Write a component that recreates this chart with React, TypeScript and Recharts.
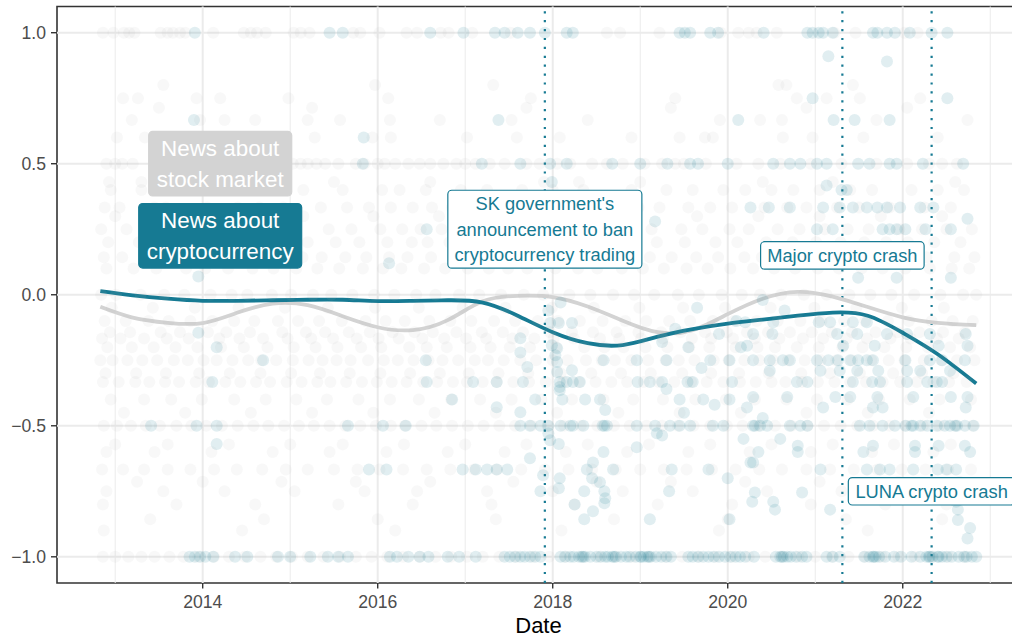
import React from 'react';
import {
  ComposedChart,
  Scatter,
  Line,
  XAxis,
  YAxis,
  ReferenceLine,
  ReferenceArea,
  ReferenceDot,
} from 'recharts';

// ---------- colours ----------
const TEAL = '#167a93';
const LIGHT = '#d3d3d3';
const FONT = '"Liberation Sans", Arial, Helvetica, sans-serif';

// ---------- axes ----------
const xDomain = [2012.335, 2023.34];
const yDomain = [-1.1, 1.1];
const xTicks = [2014, 2016, 2018, 2020, 2022];
const xMinor = [2013, 2015, 2017, 2019, 2021, 2023];
const yTicks = [-1, -0.5, 0, 0.5, 1];

// ---------- smoothed trends ----------
const trendDates = [2012.83, 2013.2, 2013.6, 2014.0, 2014.4, 2014.8, 2015.2, 2015.6, 2016.0, 2016.4, 2016.8, 2017.2, 2017.6, 2018.0, 2018.4, 2018.8, 2019.2, 2019.6, 2020.0, 2020.4, 2020.8, 2021.2, 2021.6, 2022.0, 2022.4, 2022.84];
const cryptoTrend = [0.014, -0.002, -0.015, -0.023, -0.023, -0.021, -0.019, -0.019, -0.024, -0.023, -0.021, -0.03, -0.08, -0.143, -0.185, -0.192, -0.16, -0.131, -0.11, -0.095, -0.08, -0.068, -0.08, -0.145, -0.227, -0.339];
const stockTrend = [-0.046, -0.087, -0.107, -0.108, -0.068, -0.034, -0.04, -0.082, -0.124, -0.135, -0.097, -0.025, -0.004, -0.009, -0.045, -0.099, -0.143, -0.135, -0.074, -0.015, 0.011, -0.007, -0.047, -0.086, -0.107, -0.116];

// ---------- events ----------
const eventDates = [2017.91, 2021.31, 2022.33];

// ---------- news about stock market (sentiment by date) ----------
const stockP100 = [2012.86, 2012.98, 2013.1, 2013.16, 2013.22, 2013.52, 2013.6, 2013.66, 2013.74, 2013.8, 2014.12, 2014.47, 2014.55, 2014.62, 2014.72, 2015.04, 2015.12, 2015.22, 2015.72, 2015.8, 2016.02, 2016.33, 2016.45, 2016.72, 2016.81, 2017.08, 2017.52, 2018.62, 2018.77, 2019.22, 2019.92, 2020.12, 2020.24, 2020.33, 2020.56, 2021.22, 2021.46, 2022.02, 2022.17];
const stockP080 = [2013.55, 2015.97, 2017.32, 2020.58, 2020.67, 2021.43];
const stockP075 = [2013.09, 2013.26, 2013.93, 2014.2, 2014.98, 2016.12, 2017.75, 2019.4, 2020.79, 2021.13, 2021.51, 2022.2];
const stockP071 = [2013.5, 2015.25, 2017.7, 2019.35, 2020.9, 2022.05];
const stockP067 = [2013.19, 2013.97, 2014.25, 2014.6, 2015.2, 2015.57, 2016.14, 2016.71, 2017.53, 2018.4, 2019.91, 2020.37, 2020.62, 2021.7, 2022.74];
const stockP060 = [2013.02, 2013.34, 2014.45, 2015.28, 2015.94, 2016.15, 2017.02, 2017.59, 2018.08, 2018.9, 2019.45, 2019.74, 2019.83, 2020.63, 2020.97, 2021.55, 2022.4];
const stockP050 = [2012.9, 2013.0, 2013.08, 2013.2, 2013.55, 2013.62, 2014.0, 2014.06, 2014.35, 2014.8, 2015.03, 2015.12, 2015.2, 2015.3, 2015.4, 2015.55, 2015.75, 2015.85, 2016.0, 2016.08, 2016.2, 2016.35, 2016.48, 2016.6, 2016.75, 2016.9, 2017.0, 2017.12, 2017.28, 2017.45, 2017.7, 2017.85, 2018.05, 2018.2, 2018.45, 2018.62, 2018.8, 2019.05, 2019.25, 2019.4, 2019.5, 2019.75, 2020.1, 2020.35, 2020.6, 2020.95, 2021.3, 2021.7, 2022.05, 2022.3, 2022.45, 2022.62];
const stockP043 = [2012.93, 2013.3, 2014.9, 2015.5, 2016.6, 2017.9, 2018.3, 2019.0, 2020.4, 2021.2, 2022.6];
const stockP040 = [2012.95, 2013.3, 2013.7, 2014.3, 2014.75, 2015.15, 2015.6, 2016.05, 2016.25, 2016.55, 2016.95, 2017.25, 2017.65, 2018.0, 2018.35, 2018.9, 2019.3, 2019.6, 2019.95, 2020.2, 2020.5, 2020.75, 2021.05, 2021.4, 2021.65, 2022.1, 2022.4, 2022.7];
const stockP033 = [2012.88, 2013.05, 2013.45, 2013.58, 2014.05, 2014.4, 2014.65, 2014.92, 2015.35, 2015.65, 2015.9, 2016.15, 2016.4, 2016.62, 2016.85, 2017.05, 2017.35, 2017.55, 2017.8, 2018.15, 2018.5, 2018.72, 2018.98, 2019.22, 2019.55, 2019.8, 2020.05, 2020.42, 2020.68, 2020.9, 2021.25, 2021.5, 2021.85, 2022.25, 2022.55];
const stockP030 = [2013.0, 2013.7, 2014.45, 2015.15, 2015.95, 2016.7, 2017.45, 2018.2, 2018.95, 2019.65, 2020.35, 2021.05, 2021.75, 2022.45];
const stockP025 = [2012.84, 2013.13, 2013.41, 2013.7, 2013.95, 2014.24, 2014.5, 2014.83, 2015.06, 2015.44, 2015.7, 2016.03, 2016.28, 2016.49, 2016.73, 2016.99, 2017.21, 2017.4, 2017.64, 2017.93, 2018.27, 2018.53, 2018.86, 2019.13, 2019.47, 2019.71, 2020.02, 2020.24, 2020.57, 2020.82, 2021.11, 2021.37, 2021.61, 2021.96, 2022.22, 2022.5, 2022.79];
const stockP020 = [2012.92, 2013.27, 2013.5, 2013.87, 2014.14, 2014.46, 2014.71, 2015.02, 2015.2, 2015.52, 2015.79, 2016.11, 2016.39, 2016.57, 2016.82, 2017.09, 2017.31, 2017.52, 2017.77, 2018.11, 2018.42, 2018.64, 2018.94, 2019.19, 2019.51, 2019.86, 2020.11, 2020.44, 2020.74, 2021.01, 2021.29, 2021.56, 2021.81, 2022.06, 2022.36, 2022.66];
const stockP014 = [2012.87, 2013.08, 2013.36, 2013.63, 2013.9, 2014.17, 2014.37, 2014.64, 2014.87, 2015.14, 2015.36, 2015.63, 2015.87, 2016.13, 2016.34, 2016.61, 2016.86, 2017.13, 2017.37, 2017.61, 2017.84, 2018.07, 2018.34, 2018.61, 2018.87, 2019.11, 2019.36, 2019.64, 2019.89, 2020.19, 2020.39, 2020.66, 2020.94, 2021.21, 2021.44, 2021.71, 2022.01, 2022.27, 2022.59, 2022.82];
const stockP010 = [2012.9, 2013.21, 2013.47, 2013.81, 2014.03, 2014.29, 2014.57, 2014.81, 2015.07, 2015.31, 2015.56, 2015.83, 2016.06, 2016.27, 2016.53, 2016.77, 2017.03, 2017.27, 2017.49, 2017.71, 2018.03, 2018.29, 2018.51, 2018.79, 2019.03, 2019.27, 2019.53, 2019.77, 2020.03, 2020.29, 2020.53, 2020.77, 2021.03, 2021.27, 2021.53, 2021.77, 2022.03, 2022.31, 2022.56, 2022.76];
const stockP000 = [2012.84, 2013.01, 2013.29, 2013.56, 2013.79, 2014.09, 2014.33, 2014.51, 2014.79, 2015.01, 2015.26, 2015.47, 2015.71, 2015.96, 2016.19, 2016.44, 2016.66, 2016.93, 2017.16, 2017.41, 2017.67, 2017.89, 2018.19, 2018.43, 2018.69, 2018.93, 2019.16, 2019.43, 2019.67, 2019.93, 2020.16, 2020.37, 2020.61, 2020.87, 2021.13, 2021.39, 2021.63, 2021.87, 2022.13, 2022.43, 2022.69, 2022.84];
const stockM005 = [2012.96, 2013.43, 2013.91, 2014.41, 2014.94, 2015.43, 2015.97, 2016.47, 2016.97, 2017.46, 2017.99, 2018.47, 2018.99, 2019.49, 2019.97, 2020.49, 2020.99, 2021.47, 2021.99, 2022.47];
const stockM010 = [2012.88, 2013.12, 2013.38, 2013.61, 2013.86, 2014.11, 2014.36, 2014.59, 2014.86, 2015.09, 2015.33, 2015.59, 2015.86, 2016.09, 2016.31, 2016.59, 2016.83, 2017.07, 2017.33, 2017.57, 2017.83, 2018.06, 2018.31, 2018.57, 2018.83, 2019.07, 2019.33, 2019.57, 2019.83, 2020.07, 2020.33, 2020.57, 2020.83, 2021.07, 2021.33, 2021.57, 2021.83, 2022.07, 2022.33, 2022.57, 2022.8];
const stockM014 = [2012.94, 2013.17, 2013.52, 2013.74, 2014.06, 2014.27, 2014.54, 2014.91, 2015.18, 2015.4, 2015.67, 2015.91, 2016.17, 2016.42, 2016.63, 2016.9, 2017.19, 2017.43, 2017.66, 2017.97, 2018.22, 2018.46, 2018.73, 2018.98, 2019.24, 2019.46, 2019.74, 2019.99, 2020.22, 2020.46, 2020.71, 2020.96, 2021.19, 2021.42, 2021.69, 2021.94, 2022.19, 2022.46, 2022.71];
const stockM017 = [2012.85, 2013.06, 2013.33, 2013.59, 2013.84, 2014.19, 2014.42, 2014.69, 2014.97, 2015.24, 2015.49, 2015.76, 2016.01, 2016.24, 2016.51, 2016.76, 2017.01, 2017.24, 2017.54, 2017.79, 2018.01, 2018.24, 2018.54, 2018.76, 2019.01, 2019.26, 2019.59, 2019.81, 2020.06, 2020.31, 2020.59, 2020.86, 2021.09, 2021.36, 2021.59, 2021.86, 2022.09, 2022.39, 2022.64];
const stockM020 = [2012.91, 2013.19, 2013.44, 2013.69, 2013.94, 2014.21, 2014.47, 2014.74, 2015.04, 2015.29, 2015.54, 2015.81, 2016.04, 2016.36, 2016.56, 2016.79, 2017.06, 2017.29, 2017.51, 2017.74, 2018.04, 2018.36, 2018.59, 2018.81, 2019.06, 2019.31, 2019.56, 2019.79, 2020.09, 2020.34, 2020.54, 2020.79, 2021.04, 2021.31, 2021.54, 2021.79, 2022.04, 2022.29, 2022.54, 2022.77];
const stockM025 = [2012.83, 2012.97, 2013.14, 2013.31, 2013.48, 2013.67, 2013.83, 2014.01, 2014.16, 2014.34, 2014.52, 2014.67, 2014.84, 2015.03, 2015.21, 2015.37, 2015.53, 2015.69, 2015.89, 2016.07, 2016.23, 2016.41, 2016.58, 2016.74, 2016.92, 2017.11, 2017.26, 2017.44, 2017.63, 2017.81, 2018.0, 2018.17, 2018.38, 2018.56, 2018.71, 2018.9, 2019.09, 2019.29, 2019.44, 2019.62, 2019.84, 2020.01, 2020.19, 2020.36, 2020.52, 2020.69, 2020.88, 2021.06, 2021.24, 2021.42, 2021.64, 2021.84, 2022.02, 2022.24, 2022.44, 2022.62, 2022.82];
const stockM030 = [2012.89, 2013.24, 2013.58, 2013.96, 2014.31, 2014.66, 2015.01, 2015.34, 2015.68, 2016.03, 2016.37, 2016.71, 2017.04, 2017.38, 2017.72, 2018.09, 2018.44, 2018.78, 2019.12, 2019.48, 2019.81, 2020.13, 2020.47, 2020.84, 2021.17, 2021.51, 2021.89, 2022.22, 2022.58];
const stockM033 = [2012.86, 2013.04, 2013.23, 2013.39, 2013.57, 2013.73, 2013.92, 2014.07, 2014.26, 2014.43, 2014.61, 2014.77, 2014.96, 2015.13, 2015.31, 2015.46, 2015.64, 2015.82, 2015.99, 2016.16, 2016.33, 2016.52, 2016.68, 2016.86, 2017.02, 2017.2, 2017.36, 2017.55, 2017.73, 2017.92, 2018.12, 2018.3, 2018.49, 2018.67, 2018.85, 2019.04, 2019.21, 2019.39, 2019.58, 2019.76, 2019.95, 2020.14, 2020.32, 2020.5, 2020.66, 2020.85, 2021.03, 2021.22, 2021.4, 2021.58, 2021.77, 2021.97, 2022.16, 2022.35, 2022.53, 2022.73];
const stockM040 = [2012.95, 2013.33, 2013.64, 2013.99, 2014.36, 2014.72, 2015.07, 2015.42, 2015.78, 2016.14, 2016.47, 2016.84, 2017.17, 2017.53, 2017.87, 2018.22, 2018.58, 2018.92, 2019.26, 2019.63, 2019.98, 2020.31, 2020.67, 2021.02, 2021.37, 2021.73, 2022.08, 2022.42, 2022.78];
const stockM045 = [2013.1, 2013.8, 2014.55, 2015.25, 2015.95, 2016.65, 2017.35, 2018.05, 2018.75, 2019.45, 2020.15, 2020.9, 2021.6, 2022.3];
const stockM050 = [2012.87, 2013.02, 2013.18, 2013.35, 2013.51, 2013.7, 2013.87, 2014.04, 2014.22, 2014.4, 2014.58, 2014.75, 2014.93, 2015.1, 2015.27, 2015.45, 2015.63, 2015.8, 2015.98, 2016.15, 2016.31, 2016.5, 2016.67, 2016.85, 2017.03, 2017.21, 2017.39, 2017.57, 2017.76, 2017.94, 2018.13, 2018.32, 2018.51, 2018.7, 2018.88, 2019.07, 2019.25, 2019.43, 2019.61, 2019.8, 2019.99, 2020.17, 2020.35, 2020.54, 2020.73, 2020.91, 2021.1, 2021.29, 2021.48, 2021.66, 2021.85, 2022.04, 2022.23, 2022.42, 2022.6, 2022.8];
const stockM057 = [2013.0, 2013.6, 2014.3, 2015.0, 2015.6, 2016.3, 2017.0, 2017.7, 2018.4, 2019.1, 2019.8, 2020.5, 2021.2, 2021.9, 2022.55];
const stockM060 = [2012.9, 2013.45, 2014.1, 2014.8, 2015.45, 2016.1, 2016.8, 2017.45, 2018.15, 2018.85, 2019.55, 2020.25, 2020.95, 2021.65, 2022.35];
const stockM067 = [2012.85, 2013.09, 2013.33, 2013.6, 2013.86, 2014.13, 2014.39, 2014.68, 2014.95, 2015.2, 2015.5, 2015.77, 2016.02, 2016.29, 2016.56, 2016.83, 2017.1, 2017.36, 2017.64, 2017.91, 2018.18, 2018.45, 2018.72, 2019.0, 2019.27, 2019.53, 2019.82, 2020.09, 2020.36, 2020.62, 2020.9, 2021.17, 2021.44, 2021.71, 2021.99, 2022.26, 2022.52, 2022.78];
const stockM071 = [2013.25, 2014.0, 2014.9, 2015.75, 2016.6, 2017.55, 2018.5, 2019.35, 2020.2, 2021.05, 2021.95, 2022.65];
const stockM075 = [2012.9, 2013.55, 2014.25, 2015.05, 2015.85, 2016.45, 2017.25, 2018.0, 2018.8, 2019.6, 2020.45, 2021.3, 2022.1, 2022.7];
const stockM080 = [2012.86, 2013.7, 2014.6, 2015.55, 2016.4, 2017.3, 2018.25, 2019.2, 2020.05, 2020.95, 2021.8, 2022.5];
const stockM086 = [2013.4, 2014.7, 2016.0, 2017.35, 2018.7, 2020.0, 2021.35, 2022.45];
const stockM090 = [2012.87, 2014.45, 2016.2, 2018.1, 2019.9, 2021.6];
const stockM100 = [2012.86, 2013.0, 2013.15, 2013.3, 2013.45, 2013.62, 2013.78, 2013.95, 2014.13, 2014.3, 2014.48, 2014.66, 2014.84, 2015.02, 2015.2, 2015.38, 2015.57, 2015.75, 2015.93, 2016.11, 2016.29, 2016.48, 2016.66, 2016.84, 2017.02, 2017.2, 2017.39, 2017.58, 2017.77, 2017.96, 2018.15, 2018.34, 2018.53, 2018.72, 2018.91, 2019.1, 2019.29, 2019.48, 2019.67, 2019.86, 2020.05, 2020.24, 2020.43, 2020.62, 2020.81, 2021.0, 2021.19, 2021.38, 2021.57, 2021.76, 2021.95, 2022.14, 2022.33, 2022.52, 2022.71];

// ---------- news about cryptocurrency ----------
const cryptoP100 = [2013.91, 2015.45, 2015.6, 2016.6, 2016.98, 2017.34, 2017.45, 2017.6, 2017.74, 2017.91, 2018.16, 2018.23, 2019.45, 2019.51, 2019.57, 2019.8, 2019.89, 2020.41, 2020.91, 2020.97, 2021.04, 2021.09, 2021.2, 2021.66, 2021.71, 2021.82, 2021.91, 2022.08, 2022.33, 2022.51];
const cryptoP050 = [2015.83, 2017.19, 2017.63, 2017.97, 2018.16, 2018.68, 2019.0, 2019.31, 2019.57, 2019.66, 2020.0, 2020.52, 2020.71, 2020.83, 2021.02, 2021.13, 2021.49, 2021.62, 2021.85, 2021.93, 2022.23, 2022.69];
const cryptoP033 = [2020.26, 2020.47, 2020.71, 2021.09, 2021.28, 2021.43, 2021.59, 2021.71, 2021.82, 2021.97, 2022.2, 2022.35];
const cryptoP025 = [2016.56, 2021.02, 2021.2, 2021.77, 2021.85, 2021.93, 2022.03, 2022.26, 2022.55];
const cryptoM050 = [2013.41, 2013.93, 2014.16, 2015.66, 2016.06, 2016.32, 2017.63, 2017.74, 2017.86, 2017.95, 2018.09, 2018.2, 2018.23, 2018.35, 2018.57, 2018.59, 2018.62, 2018.96, 2019.17, 2019.34, 2019.45, 2019.57, 2019.83, 2019.95, 2020.29, 2020.31, 2020.37, 2020.45, 2020.71, 2020.83, 2020.91, 2021.51, 2021.62, 2021.77, 2021.91, 2022.03, 2022.1, 2022.12, 2022.2, 2022.28, 2022.39, 2022.48, 2022.54, 2022.6, 2022.62, 2022.71, 2022.81];
const cryptoM100 = [2013.85, 2013.91, 2013.97, 2014.03, 2014.12, 2014.37, 2014.51, 2014.86, 2015.0, 2015.23, 2015.43, 2015.55, 2015.66, 2016.14, 2016.22, 2016.35, 2016.48, 2016.58, 2016.8, 2016.93, 2017.12, 2017.45, 2017.51, 2017.57, 2017.63, 2017.68, 2017.74, 2017.8, 2017.86, 2018.09, 2018.14, 2018.2, 2018.24, 2018.3, 2018.33, 2018.35, 2018.37, 2018.43, 2018.5, 2018.55, 2018.6, 2018.63, 2018.68, 2018.7, 2018.72, 2018.78, 2018.84, 2018.88, 2018.95, 2019.0, 2019.01, 2019.04, 2019.08, 2019.1, 2019.12, 2019.18, 2019.24, 2019.3, 2019.35, 2019.55, 2019.6, 2019.66, 2019.72, 2019.78, 2019.84, 2019.9, 2019.97, 2020.03, 2020.09, 2020.14, 2020.2, 2020.3, 2020.55, 2020.6, 2020.62, 2020.64, 2020.68, 2020.72, 2020.78, 2020.85, 2020.9, 2021.13, 2021.2, 2021.28, 2021.56, 2021.62, 2021.66, 2021.67, 2021.69, 2021.73, 2021.8, 2021.9, 2021.98, 2022.1, 2022.2, 2022.27, 2022.3, 2022.31, 2022.34, 2022.4, 2022.41, 2022.45, 2022.5, 2022.56, 2022.64, 2022.7, 2022.73, 2022.79, 2022.84];
const cryptoM033 = [2014.11, 2016.56, 2017.09, 2017.36, 2017.66, 2018.08, 2018.16, 2018.23, 2018.31, 2018.97, 2019.11, 2019.25, 2019.54, 2019.6, 2020.05, 2020.79, 2020.91, 2021.43, 2021.65, 2021.74, 2022.05, 2022.28, 2022.39, 2022.45];
const cryptoM025 = [2014.69, 2016.55, 2018.58, 2018.96, 2019.3, 2019.8, 2020.02, 2020.29, 2020.48, 2020.63, 2020.71, 2021.02, 2021.15, 2021.26, 2021.4, 2021.49, 2021.59, 2021.66, 2022.03, 2022.31, 2022.45, 2022.71];
const cryptoM067 = [2015.9, 2016.1, 2016.97, 2017.12, 2017.25, 2017.36, 2017.48, 2018.39, 2018.69, 2019.36, 2019.78, 2021.06, 2021.59, 2021.74, 2021.85, 2022.12, 2022.4, 2022.5, 2022.61];
const cryptoOtherDates = [2013.9, 2017.38, 2020.12, 2021.21, 2021.45, 2021.85, 2015.84, 2021.15, 2021.82, 2020.97, 2022.51, 2021.13, 2021.3, 2021.36, 2017.99, 2016.13, 2013.95, 2021.49, 2021.93, 2022.55, 2019.17, 2022.74, 2018.09, 2017.95, 2017.97, 2018.07, 2018.22, 2017.63, 2017.99, 2018.05, 2017.63, 2018.03, 2018.05, 2018.22, 2017.71, 2018.05, 2018.08, 2018.08, 2018.11, 2017.8, 2018.37, 2018.54, 2019.45, 2019.72, 2020.02, 2017.36, 2017.63, 2018.6, 2017.95, 2017.97, 2018.07, 2019.19, 2019.25, 2018.96, 2017.74, 2018.58, 2018.46, 2017.89, 2018.08, 2018.45, 2018.54, 2017.86, 2018.07, 2018.36, 2018.59, 2019.33, 2018.6, 2018.59, 2018.25, 2018.46, 2018.36, 2019.11, 2020.02, 2020.2, 2020.52, 2021.04, 2021.17, 2021.43, 2021.59, 2020.29, 2020.51, 2021.25, 2021.48, 2021.82, 2022.05, 2022.31, 2022.72, 2020.22, 2021.32, 2021.68, 2022.41, 2022.74, 2020.48, 2021.06, 2021.28, 2021.48, 2021.72, 2022.05, 2022.2, 2022.54, 2020.29, 2020.68, 2021.23, 2021.4, 2021.71, 2022.12, 2022.55, 2022.74, 2020.22, 2021.09, 2021.66, 2021.77, 2022.72, 2020.8, 2021.66, 2022.14, 2022.41, 2022.71, 2020.8, 2021.55, 2022.14, 2022.77, 2020.26, 2020.29, 2020.31, 2020.85, 2020.28, 2020.52, 2022.61, 2020.54, 2021.17, 2022.63, 2022.63, 2022.77, 2022.74, 2013.95, 2014.16, 2014.16, 2016.85, 2019.4, 2019.55, 2019.7, 2019.9, 2020.15, 2019.25, 2020.1, 2019.5, 2019.85, 2020.35, 2020.0, 2020.18, 2019.3, 2020.4, 2020.6, 2019.65, 2020.4, 2020.65];
const cryptoOtherValues = [0.667, 0.667, 0.667, 0.667, 0.667, 0.667, 0.6, 0.91, 0.89, 0.75, 0.75, 0.417, 0.4, 0.4, 0.43, 0.12, 0.07, 0.065, 0.065, 0.065, 0.28, 0.29, -0.03, -0.06, -0.108, -0.108, -0.108, -0.166, -0.193, -0.204, -0.22, -0.231, -0.257, -0.288, -0.276, -0.295, -0.352, -0.364, -0.4, -0.4, -0.4, -0.4, -0.4, -0.4, -0.4, -0.429, -0.448, -0.44, -0.529, -0.555, -0.57, -0.529, -0.537, -0.582, -0.624, -0.6, -0.64, -0.689, -0.7, -0.7, -0.716, -0.75, -0.738, -0.75, -0.75, -0.75, -0.777, -0.796, -0.8, -0.826, -0.857, -0.857, -0.857, -0.105, -0.105, -0.105, -0.105, -0.105, -0.105, -0.15, -0.15, -0.15, -0.15, -0.15, -0.15, -0.15, -0.15, -0.195, -0.195, -0.195, -0.195, -0.195, -0.29, -0.29, -0.29, -0.29, -0.29, -0.29, -0.29, -0.29, -0.39, -0.39, -0.39, -0.39, -0.39, -0.39, -0.39, -0.39, -0.43, -0.43, -0.43, -0.43, -0.43, -0.576, -0.576, -0.576, -0.576, -0.576, -0.6, -0.6, -0.6, -0.6, -0.64, -0.64, -0.755, -0.755, -0.79, -0.79, -0.79, -0.82, -0.82, -0.82, -0.86, -0.89, -0.93, -0.145, -0.2, -0.57, -0.4, -0.13, -0.2, -0.28, -0.15, -0.2, -0.18, -0.1, -0.45, -0.42, -0.6, -0.7, -0.55, -0.36, -0.47, -0.55, -0.05, -0.02, -0.06];

// ---------- annotation texts ----------
const stockLabel = ['News about', 'stock market'];
const cryptoLabel = ['News about', 'cryptocurrency'];
const eventLabels = [
  ["SK government's", 'announcement to ban', 'cryptocurrency trading'],
  ['Major crypto crash'],
  ['LUNA crypto crash'],
];
const eventLabelValues = [0.25, 0.15, -0.75];
const seriesLabelDate = 2014.2;
const seriesLabelValues = [0.5, 0.225];

// ---------- build tables ----------
const row = (value: number, dates: number[]) => dates.map((d) => ({ x: d, y: value }));

const stockPoints = [
  ...row(1, stockP100), ...row(0.8, stockP080), ...row(0.75, stockP075), ...row(0.714, stockP071),
  ...row(0.667, stockP067), ...row(0.6, stockP060), ...row(0.5, stockP050), ...row(0.43, stockP043),
  ...row(0.4, stockP040), ...row(0.333, stockP033), ...row(0.3, stockP030), ...row(0.25, stockP025),
  ...row(0.2, stockP020), ...row(0.143, stockP014), ...row(0.1, stockP010), ...row(0, stockP000),
  ...row(-0.05, stockM005), ...row(-0.1, stockM010), ...row(-0.143, stockM014), ...row(-0.167, stockM017),
  ...row(-0.2, stockM020), ...row(-0.25, stockM025), ...row(-0.3, stockM030), ...row(-0.333, stockM033),
  ...row(-0.4, stockM040), ...row(-0.45, stockM045), ...row(-0.5, stockM050), ...row(-0.571, stockM057),
  ...row(-0.6, stockM060), ...row(-0.667, stockM067), ...row(-0.714, stockM071), ...row(-0.75, stockM075),
  ...row(-0.8, stockM080), ...row(-0.857, stockM086), ...row(-0.9, stockM090), ...row(-1, stockM100),
];

const cryptoPoints = [
  ...row(1, cryptoP100), ...row(0.5, cryptoP050), ...row(0.333, cryptoP033), ...row(0.25, cryptoP025),
  ...row(-0.25, cryptoM025), ...row(-0.333, cryptoM033), ...row(-0.5, cryptoM050), ...row(-0.667, cryptoM067),
  ...row(-1, cryptoM100),
  ...cryptoOtherDates.map((d, i) => ({ x: d, y: cryptoOtherValues[i] })),
];

const cryptoTrendData = trendDates.map((d, i) => ({ x: d, y: cryptoTrend[i] }));
const stockTrendData = trendDates.map((d, i) => ({ x: d, y: stockTrend[i] }));

// ---------- helpers ----------
let measureCtx: CanvasRenderingContext2D | null = null;
function measure(text: string, size: number): number {
  if (!measureCtx) measureCtx = document.createElement('canvas').getContext('2d');
  if (!measureCtx) return text.length * size * 0.5;
  measureCtx.font = `${size}px "Liberation Sans", Arial, sans-serif`;
  return measureCtx.measureText(text).width;
}

function LabelBox(props: any) {
  const { cx, cy, lines, fontSize, fill, stroke, color } = props;
  if (cx == null || cy == null) return null;
  const lineH = fontSize * 1.38;
  const padX = fontSize * 0.36;
  const padY = fontSize * 0.25;
  const w = Math.max(...lines.map((l: string) => measure(l, fontSize))) + 2 * padX;
  const h = (lines.length - 1) * lineH + fontSize + 2 * padY;
  return (
    <g>
      <rect x={cx - w / 2} y={cy - h / 2} width={w} height={h} rx={4} ry={4}
        fill={fill} stroke={stroke} strokeWidth={1.2} />
      {lines.map((l: string, i: number) => (
        <text key={i} x={cx} y={cy + (i - (lines.length - 1) / 2) * lineH + 0.35 * fontSize}
          textAnchor="middle" fontSize={fontSize} fill={color} fontFamily={FONT}>{l}</text>
      ))}
    </g>
  );
}

const fmtY = (v: number) => (v < 0 ? '\u2212' : '') + Math.abs(v).toFixed(1);

const XTick = (p: any) => (
  <text x={p.x} y={p.y} dy="0.71em" textAnchor="middle" fontSize={17.6} fill="#4d4d4d" fontFamily={FONT}>
    {p.payload.value}
  </text>
);
const YTick = (p: any) => (
  <text x={p.x} y={p.y} dy="0.355em" textAnchor="end" fontSize={17.6} fill="#4d4d4d" fontFamily={FONT}>
    {fmtY(p.payload.value)}
  </text>
);

const dot = (color: string, opacity: number) => (p: any) =>
  p.cx == null ? <g /> : <circle cx={p.cx} cy={p.cy} r={6} fill={color} fillOpacity={opacity} stroke="none" />;

export default function App() {
  return (
    <div style={{ position: 'absolute', left: 0, top: 0, width: 1012, height: 639, overflow: 'hidden', background: '#fff' }}>
      <ComposedChart width={1022} height={639} margin={{ top: 6.5, right: 2, bottom: 0, left: 0 }}
        style={{ fontFamily: FONT }}>
        <XAxis type="number" dataKey="x" domain={xDomain} ticks={xTicks} allowDataOverflow
          height={56} tickSize={5.5} tickMargin={6.7} axisLine={false}
          tickLine={{ stroke: '#333333', strokeWidth: 1.4 }} tick={<XTick />}
          label={{ value: 'Date', position: 'insideBottom', offset: 6, fontSize: 22, fill: '#000', fontFamily: FONT }} />
        <YAxis type="number" dataKey="y" domain={yDomain} ticks={yTicks} allowDataOverflow
          width={57} tickSize={6} tickMargin={5} axisLine={false}
          tickLine={{ stroke: '#333333', strokeWidth: 1.4 }} tick={<YTick />} />

        {xMinor.map((d) => (
          <ReferenceLine key={'mn' + d} x={d} stroke="#ebebeb" strokeWidth={1} />
        ))}
        {xTicks.map((d) => (
          <ReferenceLine key={'mj' + d} x={d} stroke="#ebebeb" strokeWidth={2} />
        ))}
        {yTicks.map((v) => (
          <ReferenceLine key={'hy' + v} y={v} stroke="#ebebeb" strokeWidth={2} />
        ))}

        <Scatter data={stockPoints} dataKey="y" isAnimationActive={false} shape={dot('#b4b4b4', 0.09)} />
        <Scatter data={cryptoPoints} dataKey="y" isAnimationActive={false} shape={dot(TEAL, 0.13)} />

        {eventDates.map((d) => (
          <ReferenceLine key={'ev' + d} x={d} stroke={TEAL} strokeWidth={2.2} strokeDasharray="2.2 6.7" />
        ))}

        <Line data={stockTrendData} dataKey="y" type="natural" stroke={LIGHT} strokeWidth={3.8}
          dot={false} activeDot={false} isAnimationActive={false} />
        <Line data={cryptoTrendData} dataKey="y" type="natural" stroke={TEAL} strokeWidth={3.8}
          dot={false} activeDot={false} isAnimationActive={false} />

        <ReferenceDot x={seriesLabelDate} y={seriesLabelValues[0]} r={1} ifOverflow="visible"
          shape={(p: any) => <LabelBox cx={p.cx} cy={p.cy} lines={stockLabel} fontSize={22.4} fill={LIGHT} stroke={LIGHT} color="#ffffff" />} />
        <ReferenceDot x={seriesLabelDate} y={seriesLabelValues[1]} r={1} ifOverflow="visible"
          shape={(p: any) => <LabelBox cx={p.cx} cy={p.cy} lines={cryptoLabel} fontSize={22.4} fill={TEAL} stroke={TEAL} color="#ffffff" />} />
        {eventDates.map((d, i) => (
          <ReferenceDot key={'lb' + d} x={d} y={eventLabelValues[i]} r={1} ifOverflow="visible"
            shape={(p: any) => <LabelBox cx={p.cx} cy={p.cy} lines={eventLabels[i]} fontSize={18.3} fill="#ffffff" stroke={TEAL} color={TEAL} />} />
        ))}

        <ReferenceArea x1={xDomain[0]} x2={xDomain[1]} y1={yDomain[0]} y2={yDomain[1]}
          fill="none" fillOpacity={0} stroke="#333333" strokeWidth={1.6} ifOverflow="visible" />
      </ComposedChart>
    </div>
  );
}
